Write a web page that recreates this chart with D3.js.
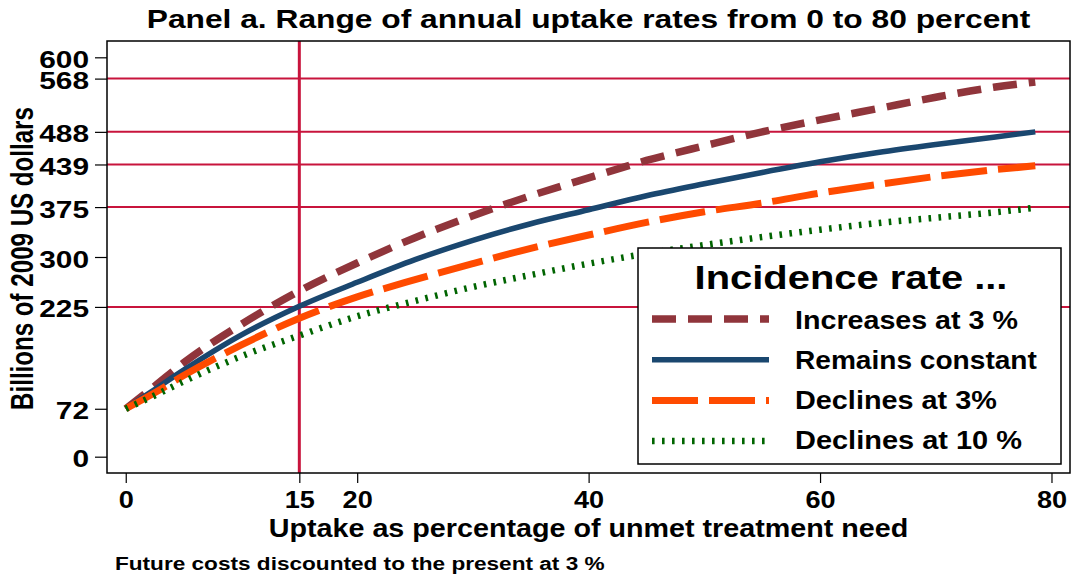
<!DOCTYPE html>
<html><head><meta charset="utf-8">
<script src="https://cdn.jsdelivr.net/npm/d3@7"></script>
<style>
body{margin:0;background:#fff}
text{font-family:"Liberation Sans",Arial,sans-serif;font-weight:bold;fill:#000}
</style>
</head><body>
<svg id="c" width="1075" height="578"></svg>
<script>
// ---- data ----
const uptake      = [0,2.5,5,10,15,20,25,30,35,40,45,50,55,60,65,70,75,78.6];
const increases3  = [72,106,141,199,249,291,329,362,392,419,445,467,488,506,523,540,555,563];
const constant    = [72,101,130,183,226,262,296,325,350,371,392,410,427,443,457,469,480,488];
const declines3   = [72,96,122,168,208,240,266,290,313,333,352,368,381,396,409,421,431,437];
const declines10  = [72,92,113,151,182,211,234,255,273,290,305,318,330,341,351,359,367,374];
const seriesNames = ["Increases at 3 %","Remains constant","Declines at 3%","Declines at 10 %"];
const yTicks = [0,72,225,300,375,439,488,568,600];
const xTicks = [0,15,20,40,60,80];
const refY = [225,375,439,488,568];
const refX = [15];
const titleText = "Panel a. Range of annual uptake rates from 0 to 80 percent";
const xTitle = "Uptake as percentage of unmet treatment need";
const yTitle = "Billions of 2009 US dollars";
const note = "Future costs discounted to the present at 3 %";
const legendTitle = "Incidence rate ...";

// ---- layout ----
const L = 107, R = 1070, T = 41, B = 473;
const svg = d3.select("#c");
const x = d3.scaleLinear().domain([-1.62, 81.6]).range([L, R]);
const y = d3.scaleLinear().domain([-24.5, 624.5]).range([B, T]);
const refColor = "#c8143c";

const styles = [
  {color:"#90353b", width:7.5, dash:"24,12"},
  {color:"#1a476f", width:5.5, dash:null},
  {color:"#ff4b00", width:7,   dash:"46,11"},
  {color:"#006400", width:6.5, dash:"2.6,7.4"}
];
const seriesVals = [increases3, constant, declines3, declines10];

// reference lines
svg.append("g").selectAll("line").data(refY).join("line")
  .attr("x1", L).attr("x2", R).attr("y1", d => y(d)).attr("y2", d => y(d))
  .attr("stroke", refColor).attr("stroke-width", 2);
svg.append("g").selectAll("line").data(refX).join("line")
  .attr("x1", d => x(d)).attr("x2", d => x(d)).attr("y1", T).attr("y2", B)
  .attr("stroke", refColor).attr("stroke-width", 3);

// curves
const line = d3.line().x(d => x(d[0])).y(d => y(d[1])).curve(d3.curveMonotoneX);
seriesVals.forEach((vals, i) => {
  const pts = uptake.map((u, k) => [u, vals[k]]);
  const s = styles[i];
  svg.append("path").datum(pts).attr("d", line)
    .attr("fill", "none").attr("stroke", s.color).attr("stroke-width", s.width)
    .attr("stroke-dasharray", s.dash).attr("stroke-linecap", "butt");
});

// frame
svg.append("rect").attr("x", L).attr("y", T).attr("width", R - L).attr("height", B - T)
  .attr("fill", "none").attr("stroke", "#000").attr("stroke-width", 1.5);

// axes
const yAxis = svg.append("g").attr("transform", `translate(${L},0)`)
  .call(d3.axisLeft(y).tickValues(yTicks).tickSize(12).tickPadding(6).tickFormat(d3.format("d")));
yAxis.select(".domain").remove();
yAxis.selectAll("line").attr("stroke", "#000").attr("stroke-width", 1.2);
yAxis.selectAll("text").attr("font-size", 24.5).attr("font-family", null)
  .attr("x", -18 / 1.22).attr("dy", 10).attr("transform", "scale(1.22,1)");

const xAxis = svg.append("g").attr("transform", `translate(0,${B})`)
  .call(d3.axisBottom(x).tickValues(xTicks).tickSize(10).tickPadding(6).tickFormat(d3.format("d")));
xAxis.select(".domain").remove();
xAxis.selectAll("line").attr("stroke", "#000").attr("stroke-width", 1.2);
xAxis.selectAll("text").each(function(d) {
  d3.select(this).attr("font-size", 24).attr("font-family", null)
    .attr("x", 0).attr("y", 0).attr("dy", 0)
    .attr("transform", `translate(0,35) scale(1.13,1)`);
});

// text helper: stretch horizontally to a target width
function fit(str, x0, y0, size, width, anchor, parent) {
  const t = (parent || svg).append("text").attr("font-size", size)
    .attr("text-anchor", anchor || "start").text(str);
  const w = t.node().getComputedTextLength();
  t.attr("transform", `translate(${x0},${y0}) scale(${width / w},1)`);
  return t;
}
fit(titleText, (L + R) / 2, 28, 25.5, 884, "middle");
fit(xTitle, (L + R) / 2, 537, 25.5, 640, "middle");
fit(note, 115, 570, 18.5, 490, "start");
{
  const t = svg.append("text").attr("text-anchor", "middle").attr("font-size", 24.5).text(yTitle);
  const w = t.node().getComputedTextLength();
  t.attr("transform", `translate(33,258.5) scale(1.25,${303 / w}) rotate(-90)`);
}

// legend
const lg = svg.append("g");
lg.append("rect").attr("x", 638).attr("y", 248).attr("width", 423).attr("height", 216)
  .attr("fill", "#fff").attr("stroke", "#000").attr("stroke-width", 1.5);
fit(legendTitle, 851, 289, 33, 313, "middle", lg);
const legLens = [223, 242, 202, 227];
seriesNames.forEach((name, i) => {
  const cy = 319 + i * 40.7;
  const s = styles[i];
  lg.append("line").attr("x1", 652).attr("x2", 769).attr("y1", cy).attr("y2", cy)
    .attr("stroke", s.color).attr("stroke-width", s.width).attr("stroke-dasharray", s.dash);
  fit(name, 795, 329 + i * 40, 25, legLens[i], "start", lg);
});
</script>
</body></html>
